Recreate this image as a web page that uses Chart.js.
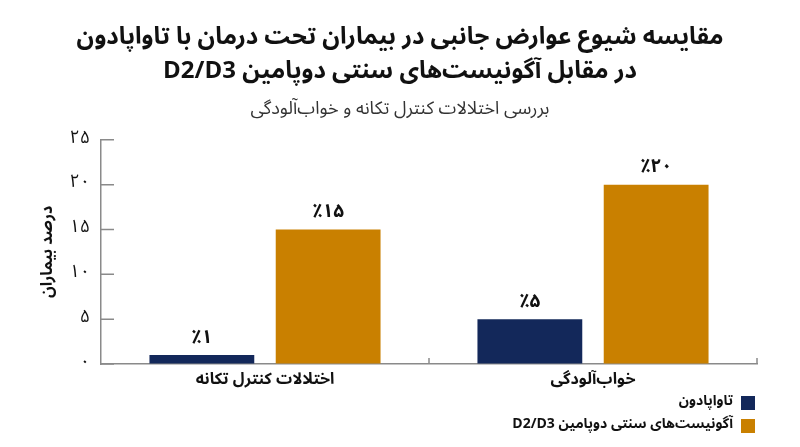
<!DOCTYPE html>
<html lang="fa">
<head>
    <meta charset="UTF-8">
    <title>Tavapadon side effects</title>
    <style>
        body {
            margin: 0;
            padding: 0;
            background-color: #fff;
        }

        .wrap {
            width: 800px;
            height: 447px;
        }
    </style>
</head>
<body>

    <div class="wrap">
        <canvas id="sideEffects" dir="rtl" width="800" height="447"></canvas>
    </div>

    <script src="https://cdn.jsdelivr.net/npm/chart.js"></script>

    <script>
        const categories = ['اختلالات کنترل تکانه', 'خواب‌آلودگی'];
        const seriesNames = ['تاواپادون', 'آگونیست‌های سنتی دوپامین D2/D3'];
        const tavapadonValues = [1, 5];
        const agonistValues = [15, 20];
        const yTickLabels = ['۰', '۵', '۱۰', '۱۵', '۲۰', '۲۵'];

        const NAVY = '#13285a';
        const GOLD = '#c98000';
        const AXIS = '#8a8a8a';
        const FONT = "'Noto Sans Arabic', 'DejaVu Sans', sans-serif";

        // Persian digits for the value labels
        function toFa(n) {
            return String(n).replace(/\d/g, d => '۰۱۲۳۴۵۶۷۸۹'[d]);
        }

        // Short ticks pointing into the plot, like the original
        const innerTicks = {
            id: 'innerTicks',
            afterDraw(chart) {
                const ctx = chart.ctx;
                const y = chart.scales.y;
                const x = chart.scales.x;
                ctx.save();
                ctx.strokeStyle = AXIS;
                ctx.lineWidth = 1.5;
                ctx.beginPath();
                y.ticks.forEach(t => {
                    const py = y.getPixelForValue(t.value);
                    ctx.moveTo(x.left, py);
                    ctx.lineTo(x.left + 13, py);
                });
                for (let i = 1; i <= categories.length; i++) {
                    const px = (x.getPixelForValue(i - 1) + x.getPixelForValue(i)) / 2;
                    const edge = i === categories.length ? x.right : px;
                    ctx.moveTo(edge, y.bottom);
                    ctx.lineTo(edge, y.bottom - 6);
                }
                ctx.stroke();
                ctx.restore();
            }
        };

        // Percent labels above every bar
        const valueLabels = {
            id: 'valueLabels',
            afterDatasetsDraw(chart) {
                const ctx = chart.ctx;
                ctx.save();
                ctx.font = 'bold 19px ' + FONT;
                ctx.fillStyle = '#111';
                ctx.textAlign = 'center';
                ctx.textBaseline = 'middle';
                chart.data.datasets.forEach((ds, di) => {
                    chart.getDatasetMeta(di).data.forEach((bar, i) => {
                        ctx.fillText('٪' + toFa(ds.data[i]), bar.x, bar.y - 15);
                    });
                });
                ctx.restore();
            }
        };

        // Legend stacked in two rows at the bottom right
        const stackedLegend = {
            id: 'stackedLegend',
            afterDraw(chart) {
                const ctx = chart.ctx;
                const right = chart.chartArea.right - 2;
                ctx.save();
                ctx.font = 'bold 14px ' + FONT;
                ctx.textAlign = 'right';
                ctx.textBaseline = 'middle';
                chart.data.datasets.forEach((ds, i) => {
                    const cy = 403 + i * 23;
                    ctx.fillStyle = ds.backgroundColor;
                    ctx.fillRect(right - 14, cy - 7, 14, 14);
                    ctx.fillStyle = '#111';
                    ctx.fillText(ds.label, right - 22, cy);
                });
                ctx.restore();
            }
        };

        const ctx = document.getElementById('sideEffects').getContext('2d');
        new Chart(ctx, {
            type: 'bar',
            data: {
                labels: categories,
                datasets: [{
                    label: seriesNames[0],
                    data: tavapadonValues,
                    backgroundColor: NAVY
                }, {
                    label: seriesNames[1],
                    data: agonistValues,
                    backgroundColor: GOLD
                }]
            },
            options: {
                responsive: false,
                animation: false,
                categoryPercentage: 0.77,
                barPercentage: 0.83,
                layout: {
                    padding: { left: 0, right: 0, top: 0, bottom: 56 }
                },
                plugins: {
                    legend: { display: false },
                    tooltip: { enabled: false },
                    title: {
                        display: true,
                        text: [
                            'مقایسه شیوع عوارض جانبی در بیماران تحت درمان با تاواپادون',
                            'در مقابل آگونیست‌های سنتی دوپامین D2/D3'
                        ],
                        color: '#111',
                        font: { family: FONT, size: 24, weight: 'bold', lineHeight: 1.4 },
                        padding: { top: 24, bottom: 8 }
                    },
                    subtitle: {
                        display: true,
                        text: 'بررسی اختلالات کنترل تکانه و خواب‌آلودگی',
                        color: '#333',
                        font: { family: FONT, size: 18, lineHeight: 1.2 },
                        padding: { top: 1, bottom: 18 }
                    }
                },
                scales: {
                    x: {
                        afterFit(scale) { scale.height = 27; },
                        grid: { display: false, drawTicks: false },
                        border: { color: AXIS, width: 1.5 },
                        ticks: {
                            padding: 8,
                            color: '#111',
                            font: { family: FONT, size: 16, weight: 'bold' }
                        }
                    },
                    y: {
                        min: 0,
                        max: 25,
                        afterFit(scale) { scale.width = 101; },
                        grid: { drawOnChartArea: false, drawTicks: false },
                        border: { color: AXIS, width: 1.5 },
                        ticks: {
                            stepSize: 5,
                            padding: 11,
                            color: '#111',
                            font: { family: FONT, size: 18 },
                            callback: (value, index) => yTickLabels[index]
                        },
                        title: {
                            display: true,
                            text: 'درصد بیماران',
                            color: '#111',
                            font: { family: FONT, size: 16, weight: 'bold', lineHeight: 1.2 },
                            padding: { top: 40 }
                        }
                    },
                    // empty right-hand gutter so the titles stay centred on the page
                    gutter: {
                        position: 'right',
                        afterFit(scale) { scale.width = 43; },
                        grid: { display: false, drawTicks: false },
                        border: { display: false },
                        ticks: { display: false }
                    }
                }
            },
            plugins: [innerTicks, valueLabels, stackedLegend]
        });
    </script>
</body>
</html>
